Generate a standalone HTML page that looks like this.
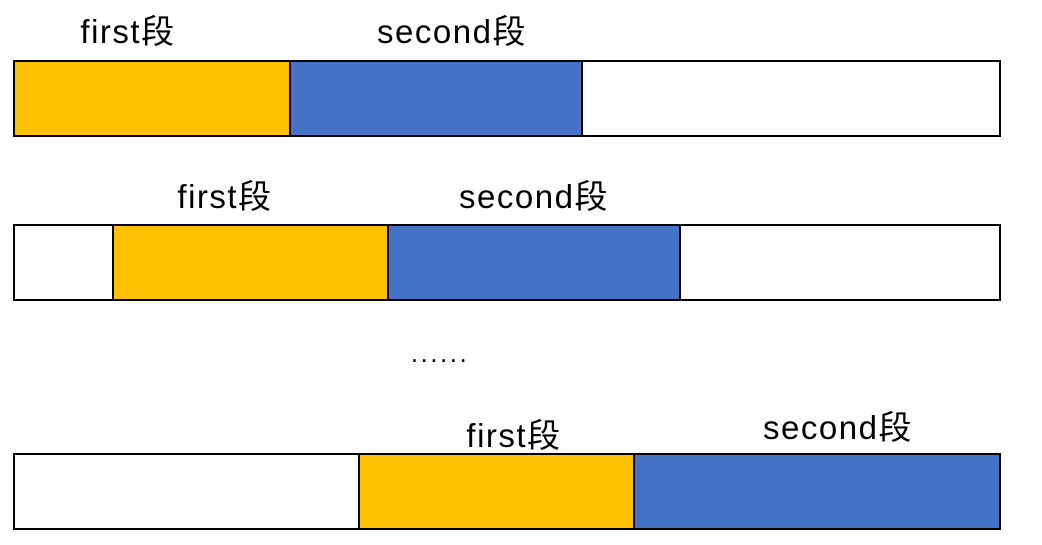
<!DOCTYPE html>
<html><head><meta charset="utf-8"><style>
html,body{margin:0;padding:0;background:#fff;width:1042px;height:545px;overflow:hidden}
svg text{font-family:"Liberation Sans","Noto Sans CJK SC",sans-serif;font-size:33px;letter-spacing:1.5px;fill:#000}
</style></head><body>
<svg id="chart" width="1042" height="545" xmlns="http://www.w3.org/2000/svg"></svg>
<script>
const rowTops = [61, 225, 454];
const firstStart = [14, 113, 359];
const firstEnd = [290, 388, 634];
const secondEnd = [582, 680, 1000];
const labelFirst = ["first段", "first段", "first段"];
const labelSecond = ["second段", "second段", "second段"];
const firstLabelX = [128, 225, 514];
const secondLabelX = [452, 534, 838];
const firstLabelY = [43, 208, 447];
const secondLabelY = [43, 208, 439];
const barLeft = 14, barRight = 1000, barH = 75;
const svg = document.getElementById('chart');
const NS = 'http://www.w3.org/2000/svg';
function mk(tag, attrs){const e=document.createElementNS(NS,tag);for(const k in attrs)e.setAttribute(k,attrs[k]);svg.appendChild(e);return e;}
rowTops.forEach((y,i)=>{
  const bg = mk('rect',{x:barLeft,y:y,width:barRight-barLeft,height:barH,fill:'#fff',stroke:'#000','stroke-width':2});
  
  
  const f = mk('rect',{x:firstStart[i],y:y,width:firstEnd[i]-firstStart[i],height:barH,fill:'#FFC000',stroke:'#000','stroke-width':2});
  
  
  const s = mk('rect',{x:firstEnd[i],y:y,width:secondEnd[i]-firstEnd[i],height:barH,fill:'#4472C4',stroke:'#000','stroke-width':2});
  
  
  const t1 = mk('text',{x:firstLabelX[i],y:firstLabelY[i],'text-anchor':'middle'});
  t1.textContent = labelFirst[i];
  
  
  const t2 = mk('text',{x:secondLabelX[i],y:secondLabelY[i],'text-anchor':'middle'});
  t2.textContent = labelSecond[i];
  
  
});
const dots = mk('text',{x:440,y:362,'text-anchor':'middle',style:'font-size:26px;letter-spacing:2.5px'});
dots.textContent='......';


</script>
</body></html>
